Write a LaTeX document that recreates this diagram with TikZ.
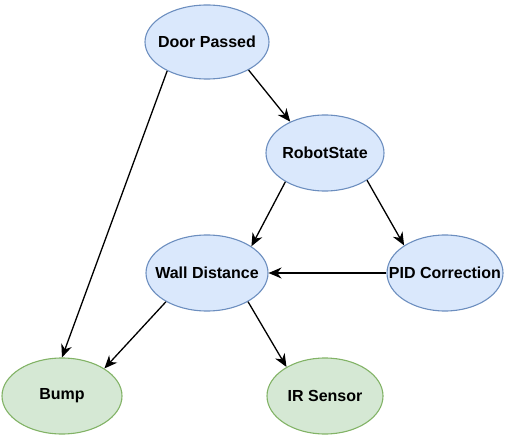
\documentclass[tikz,border=0pt]{standalone}
\usepackage{fontspec}
\setmainfont{Liberation Sans}
\usepackage{tikz}
\usetikzlibrary{arrows.meta, shapes.geometric}
\definecolor{StateFill}{HTML}{DAE8FC}
\definecolor{StateLine}{HTML}{6C8EBF}
\definecolor{SensorFill}{HTML}{D5E8D4}
\definecolor{SensorLine}{HTML}{82B366}
% label whose width does not grow the ellipse
\newcommand{\varlabel}[1]{\makebox[0pt]{#1}}

\begin{document}
\begin{tikzpicture}[
    x=1pt, y=-1pt,
    state/.style={ellipse, fill=StateFill, draw=StateLine, line width=1.1pt,
      inner sep=0pt, minimum width=118pt, minimum height=76pt,
      font=\fontsize{16}{19}\selectfont\bfseries},
    sensor/.style={state, fill=SensorFill, draw=SensorLine},
    link/.style={-{Stealth[length=13pt,width=11pt]}, line width=1.3pt}
  ]
  \useasboundingbox (0,0) rectangle (508,438);

  % variables
  \node[state, minimum width=124pt, minimum height=74pt] (door) at (207,42) {\varlabel{Door Passed}};
  \node[state] (robot) at (325,153) {\varlabel{RobotState}};
  \node[state, minimum width=122pt] (wall) at (207,273) {\varlabel{Wall Distance}};
  \node[state, minimum width=116pt] (pid) at (445,273) {\varlabel{PID Correction}};
  \node[sensor, minimum width=120pt] (bump) at (62,396) {\varlabel{Bump}};
  \node[sensor, minimum width=116pt] (ir) at (325,396) {\varlabel{IR Sensor}};

  % dependencies
  \draw[link] (door.326) -- (robot.138);
  \draw[link] (door.216) -- (bump.north);
  \draw[link] (robot.216) -- (wall.31);
  \draw[link] (robot.327) -- (pid.146);
  \draw[link] (pid.west) -- (wall.east);
  \draw[link] (wall.215) -- (bump.33);
  \draw[link] (wall.325) -- (ir.143);
\end{tikzpicture}
\end{document}
